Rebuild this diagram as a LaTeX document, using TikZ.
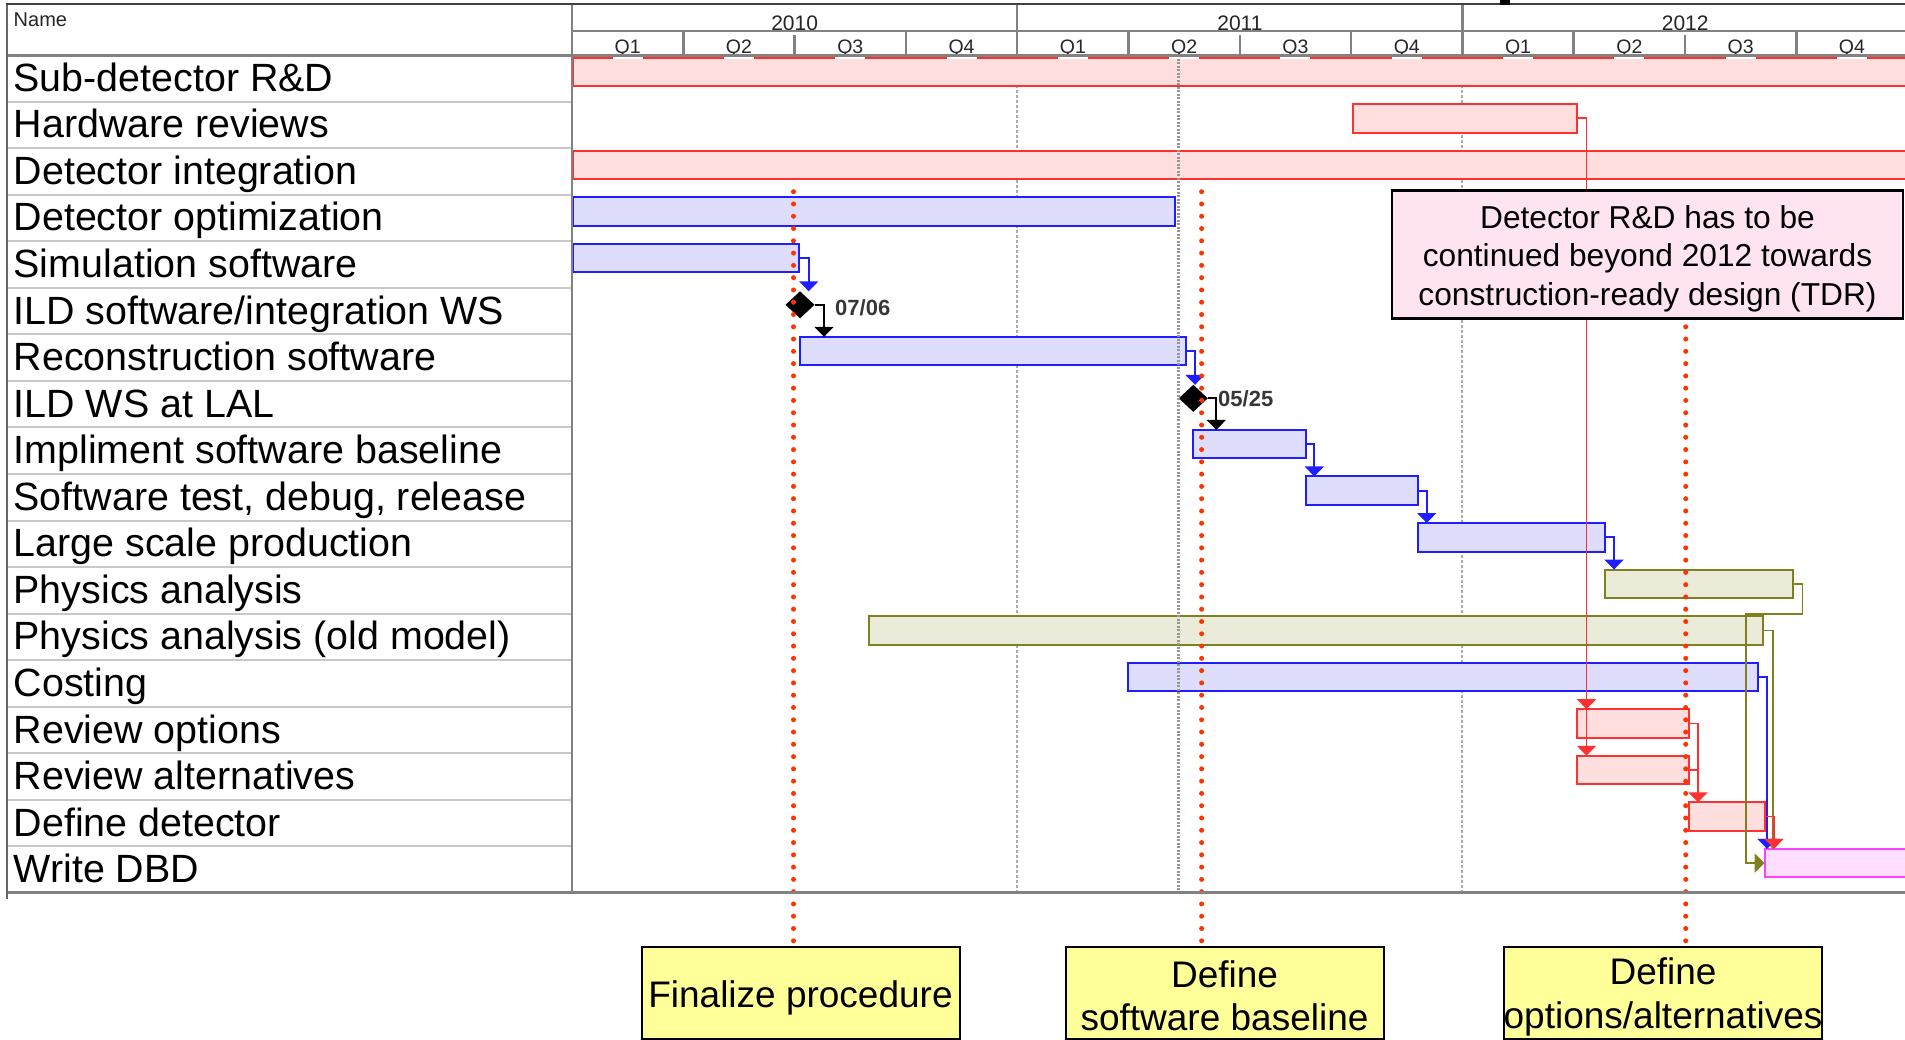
\documentclass[tikz,border=0pt]{standalone}
\usepackage{fontspec}
\setmainfont{Liberation Sans}
\usetikzlibrary{arrows.meta,shapes.geometric,calc}

\definecolor{rline}{RGB}{255,48,48}
\definecolor{rfill}{RGB}{255,222,222}
\definecolor{bline}{RGB}{30,30,255}
\definecolor{bfill}{RGB}{222,222,252}
\definecolor{oline}{RGB}{128,128,32}
\definecolor{ofill}{RGB}{235,235,218}
\definecolor{mline}{RGB}{255,64,255}
\definecolor{mfill}{RGB}{255,222,255}
\definecolor{dotred}{RGB}{255,51,0}
\definecolor{gridgray}{RGB}{150,150,150}
\definecolor{hdrgray}{RGB}{130,130,130}
\definecolor{rowgray}{RGB}{200,200,200}
\definecolor{notepink}{RGB}{253,228,240}
\definecolor{noteyellow}{RGB}{255,255,153}
\definecolor{msgray}{RGB}{55,55,55}

\begin{document}
\begin{tikzpicture}[x=1pt,y=-1pt,
  bar/.style={draw, line width=2pt, minimum height=28.5pt, inner sep=0pt, outer sep=0pt, anchor=north west},
  redbar/.style={bar, draw=rline, fill=rfill},
  bluebar/.style={bar, draw=bline, fill=bfill},
  olivebar/.style={bar, draw=oline, fill=ofill},
  magbar/.style={bar, draw=mline, fill=mfill},
  lbl/.style={anchor=base west, inner sep=0pt, font=\fontsize{39.4}{40}\selectfont},
  yrlbl/.style={anchor=base, inner sep=0pt, text=black!85, font=\fontsize{21}{21}\selectfont},
  qlbl/.style={anchor=base, inner sep=0pt, text=black!85, font=\fontsize{19.5}{19.5}\selectfont},
  conn/.style={line width=1.7pt, -{Triangle[width=19pt,length=10pt]}},
  link/.style={line width=1.7pt},
  reddots/.style={draw=dotred, line width=5pt, line cap=round, dash pattern=on 0pt off 12.28pt},
  ms/.style={diamond, fill=black, inner sep=0pt, outer sep=0pt, minimum width=29pt, minimum height=27pt},
  mslbl/.style={anchor=base west, inner sep=0pt, text=msgray, font=\bfseries\fontsize{22}{22}\selectfont},
  hdrline/.style={draw=hdrgray, line width=2.5pt},
  note/.style={draw=black, line width=2.5pt, fill=notepink, minimum width=511pt, minimum height=127.6pt, inner sep=0pt},
  notetext/.style={inner sep=0pt, align=center, font=\fontsize{31.7}{38.4}\selectfont},
  ybox/.style={draw=black, line width=2pt, fill=noteyellow, minimum width=318pt, minimum height=92pt, inner sep=0pt},
  yboxtext/.style={inner sep=0pt, align=center, font=\fontsize{37}{43.5}\selectfont}
]
\useasboundingbox (0,0) rectangle (1905,1039);
\fill[white] (0,0) rectangle (1905,1039);

% year grid lines (behind bars)
\draw[gridgray!80, line width=1.3pt, dash pattern=on 2.5pt off 2.5pt] (1017,55) -- (1017,892.9);
\draw[gridgray!80, line width=1.3pt, dash pattern=on 2.5pt off 2.5pt] (1462,55) -- (1462,892.9);

% bars
\node[redbar, minimum width=1342pt] (sub) at (573,57.5) {};
\node[redbar, minimum width=224pt] (hw) at (1353,104.05) {};
\node[redbar, minimum width=1342pt] (integ) at (573,150.6) {};
\node[bluebar, minimum width=602pt] (opt) at (573,197.15) {};
\node[bluebar, minimum width=226pt] (sim) at (573,243.7) {};
\node[ms] (m1) at (800,304.8) {};
\node[bluebar, minimum width=386pt] (reco) at (800,336.8) {};
\node[ms] (m2) at (1193.3,398.3) {};
\node[bluebar, minimum width=112.4pt] (impl) at (1193.3,429.9) {};
\node[bluebar, minimum width=112.6pt] (test) at (1305.7,476.45) {};
\node[bluebar, minimum width=186.7pt] (large) at (1418.3,523) {};
\node[olivebar, minimum width=188.5pt] (pa) at (1604.5,569.55) {};
\node[olivebar, minimum width=894pt] (old) at (869,616.1) {};
\node[bluebar, minimum width=630pt] (cost) at (1127.5,662.65) {};
\node[redbar, minimum width=112pt] (ro) at (1576.6,709.2) {};
\node[redbar, minimum width=112pt] (ra) at (1576.6,755.75) {};
\node[redbar, minimum width=76pt] (dd) at (1688.6,802.3) {};
\node[magbar, minimum width=150.4pt] (wd) at (1764.6,848.85) {};

% milestone labels
\node[mslbl] (m1l) at (835,315) {07/06};
\node[mslbl] (m2l) at (1218,406.7) {05/25};

% today line (on top of bars)
\draw[gridgray, line width=3pt, dash pattern=on 2pt off 1.5pt] (1178.5,55) -- (1178.5,892.9);

% connectors
\draw[conn, bline] (sim.east) -- ++(9.7,0) coordinate (c1) -- (c1 |- m1.north);
\draw[conn, black] (m1.east) -- ++(9.5,0) coordinate (c2) -- (c2 |- reco.north);
\draw[conn, bline] (reco.east) -- ++(9,0) coordinate (c3) -- (c3 |- m2.north);
\draw[conn, black] (m2.east) -- ++(8.5,0) coordinate (c4) -- (c4 |- impl.north);
\draw[conn, bline] (impl.east) -- ++(8.6,0) coordinate (c5) -- (c5 |- test.north);
\draw[conn, bline] (test.east) -- ++(8.4,0) coordinate (c6) -- (c6 |- large.north);
\draw[conn, bline] (large.east) -- ++(9,0) coordinate (c7) -- (c7 |- pa.north);
\draw[link, rline] (hw.east) -- ++(9.5,0) coordinate (c8);
\draw[conn, rline] (c8) -- (c8 |- ro.north);
\draw[conn, rline] (c8) -- (c8 |- ra.north);
\draw[conn, rline] (ro.east) -- ++(9.4,0) coordinate (c9) -- (c9 |- dd.north);
\draw[link, rline] (ra.east) -- (c9 |- ra.east);
\draw[conn, oline] (pa.east) -- ++(9.6,0) -- ++(0,30) coordinate (c10) -| ($(wd.west)+(-18.6,0)$) -- (wd.west);
\draw[conn, oline] (old.east) -- ++(10,0) coordinate (c11) -- (c11 |- wd.north);
\draw[conn, bline] (cost.east) -- ++(9.5,0) coordinate (c12) -- (c12 |- wd.north);
\draw[conn, rline] (dd.east) -- ++(9.4,0) coordinate (c13) -- (c13 |- wd.north);

% yellow boxes
\node[ybox] (f1) at (800.5,993) {};
\node[ybox] (f2) at (1224.5,993) {};
\node[ybox] (f3) at (1663,993) {};
\node[yboxtext] (f1t) at ($(f1.center)+(0,5)$) {Finalize procedure};
\node[yboxtext] (f2t) at ($(f2.center)+(0,3)$) {Define\\software baseline};
\node[yboxtext] (f3t) at ($(f3.center)+(0,4)$) {Define\\options/alternatives};

% red dotted lines
\coordinate (d1) at (793.5,191.7);
\coordinate (d2) at (1201.6,191.7);
\coordinate (d3) at (1685.7,191.7);
\draw[reddots] (d1) -- (d1 |- f1.north);
\draw[reddots] (d2) -- (d2 |- f2.north);
\draw[reddots] (d3) -- (d3 |- f3.north);

% annotation
\node[note] (note) at (1647.5,254.5) {};
\node[notetext] (notet) at ($(note.center)+(0,4)$) {Detector R\&D has to be\\continued beyond 2012 towards\\construction-ready design (TDR)};

% label column rows
\foreach \k in {1,...,17} {
  \draw[rowgray, line width=2pt] (7.4,{55+\k*46.55}) -- (572,{55+\k*46.55});
}
\node[lbl] (l1) at (13.5,91.3) {Sub-detector R\&D};
\node[lbl] (l2) at (13.5,137.85) {Hardware reviews};
\node[lbl] (l3) at (13.5,184.4) {Detector integration};
\node[lbl] (l4) at (13.5,230.95) {Detector optimization};
\node[lbl] (l5) at (13.5,277.5) {Simulation software};
\node[lbl] (l6) at (13.5,324.05) {ILD software/integration WS};
\node[lbl] (l7) at (13.5,370.6) {Reconstruction software};
\node[lbl] (l8) at (13.5,417.15) {ILD WS at LAL};
\node[lbl] (l9) at (13.5,463.7) {Impliment software baseline};
\node[lbl] (l10) at (13.5,510.25) {Software test, debug, release};
\node[lbl] (l11) at (13.5,556.8) {Large scale production};
\node[lbl] (l12) at (13.5,603.35) {Physics analysis};
\node[lbl] (l13) at (13.5,649.9) {Physics analysis (old model)};
\node[lbl] (l14) at (13.5,696.45) {Costing};
\node[lbl] (l15) at (13.5,743) {Review options};
\node[lbl] (l16) at (13.5,789.55) {Review alternatives};
\node[lbl] (l17) at (13.5,836.1) {Define detector};
\node[lbl] (l18) at (13.5,882.65) {Write DBD};

% header
\node[anchor=base west, inner sep=0pt, font=\fontsize{20}{20}\selectfont, text=black!85] (hdr) at (13.5,26) {Name};
\node[yrlbl] (y10) at (794.6,30.5) {2010};
\node[yrlbl] (y11) at (1239.9,30.5) {2011};
\node[yrlbl] (y12) at (1685.2,30.5) {2012};
\foreach \k/\q in {0/Q1,1/Q2,2/Q3,3/Q4,4/Q1,5/Q2,6/Q3,7/Q4,8/Q1,9/Q2,10/Q3,11/Q4} {
  \fill[white] ({572+(\k+0.5)*111.3-15},55.5) rectangle ({572+(\k+0.5)*111.3+15},58.7);
  \node[qlbl] at ({572+(\k+0.5)*111.3},53) {\q};
}
\foreach \k in {1,3,5,7,9,11} {
  \draw[hdrline] ({572+\k*111.3},31) -- ({572+\k*111.3},55);
}
\foreach \k in {2,6,10} {
  \draw[hdrline] ({572+\k*111.3},35) -- ({572+\k*111.3},55);
}
\foreach \k in {4,8} {
  \draw[hdrline] ({572+\k*111.3},4) -- ({572+\k*111.3},55);
}
\draw[hdrline] (572,31) -- (1905,31);
\draw[hdrline, line width=3pt] (7.4,55) -- (1905,55);
\draw[hdrline] (572,4) -- (572,892.9);
\draw[hdrline, line width=3pt] (7.4,892.9) -- (1905,892.9);
\draw[draw=black!60, line width=2pt] (7.4,3) -- (7.4,899);
\draw[draw=black!75, line width=2.5pt] (6.4,4) -- (1905,4);
\fill[black] (1500,0) rectangle (1510,5);
\end{tikzpicture}
\end{document}
